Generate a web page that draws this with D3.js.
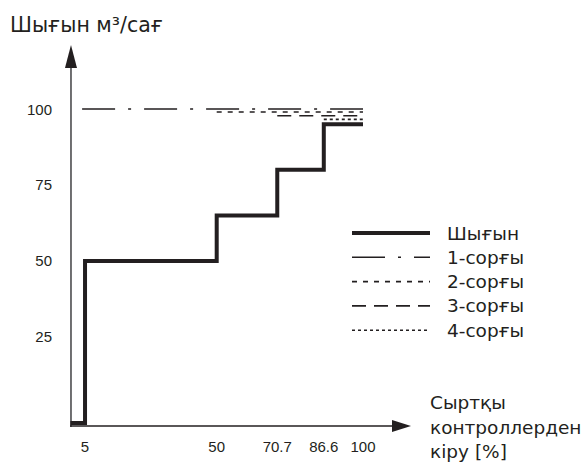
<!DOCTYPE html>
<html><head><meta charset="utf-8">
<script src="https://cdn.jsdelivr.net/npm/d3@7"></script>
<style>body{margin:0;background:#fff}svg{display:block}text{font-family:"Liberation Sans",Arial,sans-serif;fill:#231f20}text.cy{font-family:"DejaVu Sans",sans-serif}</style>
</head><body><svg id="c" width="584" height="462"></svg>
<script>
// Data
const flowX = [0, 5, 50, 70.7, 86.6, 100];
const flowY = [-3.3, 50, 65, 80, 95, 95];
const pumpNames = ["1-сорғы", "2-сорғы", "3-сорғы", "4-сорғы"];
const pumpStart = [4, 50, 70.7, 86.6];
const pumpEnd = [100, 100, 100, 100];
const pumpLevel = [100, 99, 97.8, 96.6];
const pumpDash = ["33,13,3,13", "5,6", "14,8", "3,3"];
const xTicks = [5, 50, 70.7, 86.6, 100];
const xTickLabels = ["5", "50", "70.7", "86.6", "100"];
const yTicks = [25, 50, 75, 100];
const yTickLabels = ["25", "50", "75", "100"];
const yTitle = "Шығын м³/сағ";
const xTitle = ["Сыртқы", "контроллерден", "кіру [%]"];
const flowName = "Шығын";

const svg = d3.select("#c");
const ink = "#231f20";
const x = d3.scaleLinear().domain([0, 100]).range([70.4, 363]);
const y = d3.scaleLinear().domain([-4.3, 100]).range([426, 109]);
const axisX = x(0.2), axisY = y(-4.3);

// y axis line + arrow
svg.append("line").attr("x1", axisX).attr("x2", axisX).attr("y1", 66).attr("y2", axisY + 1)
  .attr("stroke", "#4d4d4f").attr("stroke-width", 1.6);
svg.append("path").attr("d", `M${axisX},45 L${axisX - 6},68 L${axisX + 6},68 Z`).attr("fill", ink);
// x axis line + arrow
svg.append("line").attr("x1", axisX - 1).attr("x2", 395).attr("y1", axisY).attr("y2", axisY)
  .attr("stroke", ink).attr("stroke-width", 1.3);
svg.append("path").attr("d", `M411,${axisY} L392,${axisY - 6} L392,${axisY + 6} Z`).attr("fill", ink);

// tick labels
svg.selectAll(".yt").data(yTicks).join("text").attr("class", "yt")
  .attr("x", 52).attr("y", d => y(d) + 5.5).attr("text-anchor", "end")
  .attr("font-size", 15).text((d, i) => yTickLabels[i]);
svg.selectAll(".xt").data(xTicks).join("text").attr("class", "xt")
  .attr("x", d => x(d)).attr("y", 452).attr("text-anchor", "middle")
  .attr("font-size", 15).text((d, i) => xTickLabels[i]);

// titles
svg.append("text").attr("class", "cy").attr("x", 10).attr("y", 32).attr("font-size", 20.5).text(yTitle);
svg.selectAll(".xtitle").data(xTitle).join("text").attr("class", "xtitle cy")
  .attr("x", 430).attr("y", (d, i) => 409 + i * 24.5).attr("font-size", 18.5).text(d => d);

// pump lines
pumpNames.forEach((n, i) => {
  svg.append("line")
    .attr("x1", x(pumpStart[i])).attr("x2", x(pumpEnd[i]))
    .attr("y1", y(pumpLevel[i])).attr("y2", y(pumpLevel[i]))
    .attr("stroke", ink).attr("stroke-width", 1.6).attr("stroke-dasharray", pumpDash[i]);
});

// flow step line
const pts = flowX.map((v, i) => [v, flowY[i]]);
svg.append("path").datum(pts)
  .attr("d", d3.line().x(d => x(d[0])).y(d => y(d[1])).curve(d3.curveStepAfter))
  .attr("fill", "none").attr("stroke", ink).attr("stroke-width", 4).attr("stroke-linejoin", "miter");

// legend
const lg = svg.append("g");
const legendItems = [{ name: flowName, w: 4, dash: null }].concat(pumpNames.map((n, i) => ({ name: n, w: 1.6, dash: pumpDash[i] })));
legendItems.forEach((it, i) => {
  const ly = 233 + i * 24.3;
  lg.append("line").attr("x1", 352).attr("x2", 430).attr("y1", ly).attr("y2", ly)
    .attr("stroke", ink).attr("stroke-width", it.w).attr("stroke-dasharray", it.dash);
  lg.append("text").attr("class", "cy").attr("x", 447).attr("y", ly + 6.5).attr("font-size", 18.5).text(it.name);
});
</script></body></html>
